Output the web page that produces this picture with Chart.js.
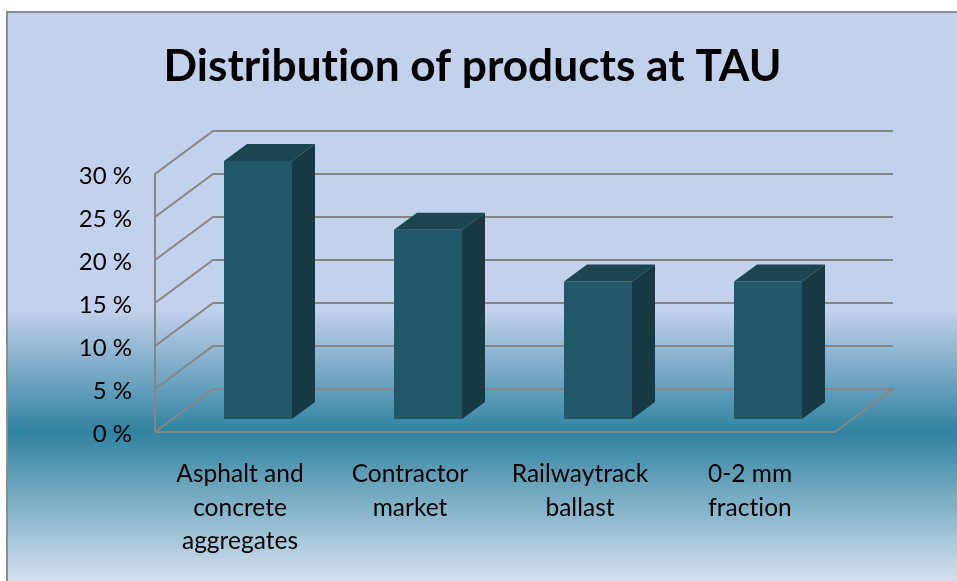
<!DOCTYPE html>
<html>
<head>
<meta charset="utf-8">
<style>html,body{margin:0;padding:0;background:#fff;overflow:hidden}canvas{display:block}</style>
<script src="https://cdn.jsdelivr.net/npm/chart.js@4"></script>
</head>
<body>
<canvas id="c" width="957" height="581"></canvas>
<script>
const titleText = 'Distribution of products at TAU';
const categories = [['Asphalt and','concrete','aggregates'],['Contractor','market'],['Railwaytrack','ballast'],['0-2 mm','fraction']];
const shareValues = [30, 22, 16, 16];
const axisMax = 30;
const axisStep = 5;

const FONT = 'Lato, "Open Sans", sans-serif';
const GRID = '#868686';
const WALL = {dx: 58, dy: -43};
const BAR_SHIFT = {dx: 18, dy: -13};
const BAR_DEPTH = {dx: 23, dy: -17};
const FRONT = '#215868', SIDE = '#163944', TOP = '#1c4552';

const scene = {
  id: 'scene',
  afterLayout(chart) {
    // centre the title over the whole plot including the value labels
    chart.titleBlock.left += 20;
    chart.titleBlock.right += 20;
  },
  beforeDraw(chart) {
    const {ctx} = chart;
    ctx.letterSpacing = '0.01px';
    const h = chart.height;
    const g = ctx.createLinearGradient(0, 12, 0, h);
    g.addColorStop(0, '#c2d1ec');
    g.addColorStop(0.524, '#c2d1ec');
    g.addColorStop(0.738, '#2f83a0');
    g.addColorStop(1, '#d3e1ef');
    ctx.fillStyle = '#fff';
    ctx.fillRect(0, 0, chart.width, h);
    ctx.fillStyle = g;
    ctx.fillRect(7, 12, chart.width, h);
    ctx.strokeStyle = '#8c8c8c';
    ctx.lineWidth = 2;
    ctx.beginPath();
    ctx.moveTo(7, h + 2); ctx.lineTo(7, 12); ctx.lineTo(chart.width + 2, 12);
    ctx.stroke();

    const y = chart.scales.y, x = chart.scales.x;
    const L = x.left, R = x.right, y0 = y.getPixelForValue(0), yT = y.getPixelForValue(axisMax);
    ctx.strokeStyle = GRID;
    ctx.lineWidth = 2;
    ctx.lineJoin = 'miter';
    y.ticks.forEach(t => {
      const py = y.getPixelForValue(t.value);
      ctx.beginPath();
      ctx.moveTo(L, py);
      ctx.lineTo(L + WALL.dx, py + WALL.dy);
      ctx.lineTo(R + WALL.dx, py + WALL.dy);
      if (t.value === 0) { ctx.lineTo(R, py); ctx.lineTo(L, py); }
      ctx.stroke();
    });
    ctx.beginPath();
    ctx.moveTo(L, yT); ctx.lineTo(L, y0);
    ctx.stroke();
  },
  beforeDatasetsDraw(chart) {
    chart.ctx.save();
    chart.ctx.translate(BAR_SHIFT.dx, BAR_SHIFT.dy);
  },
  afterDatasetsDraw(chart) {
    const {ctx} = chart;
    chart.getDatasetMeta(0).data.forEach(b => {
      const l = b.x - b.width / 2, r = b.x + b.width / 2, t = b.y, u = b.base;
      ctx.fillStyle = SIDE;
      ctx.beginPath();
      ctx.moveTo(r, t); ctx.lineTo(r + BAR_DEPTH.dx, t + BAR_DEPTH.dy);
      ctx.lineTo(r + BAR_DEPTH.dx, u + BAR_DEPTH.dy); ctx.lineTo(r, u);
      ctx.closePath(); ctx.fill();
      ctx.fillStyle = TOP;
      ctx.beginPath();
      ctx.moveTo(l, t); ctx.lineTo(l + BAR_DEPTH.dx, t + BAR_DEPTH.dy);
      ctx.lineTo(r + BAR_DEPTH.dx, t + BAR_DEPTH.dy); ctx.lineTo(r, t);
      ctx.closePath(); ctx.fill();
    });
    ctx.restore();
  }
};

new Chart(document.getElementById('c'), {
  type: 'bar',
  data: {
    labels: categories,
    datasets: [{data: shareValues, backgroundColor: FRONT, barPercentage: 0.4, categoryPercentage: 1}]
  },
  plugins: [scene],
  options: {
    responsive: false,
    animation: false,
    layout: {padding: {left: 70, right: 122, top: 0, bottom: 10}},
    plugins: {
      legend: {display: false},
      tooltip: {enabled: false},
      title: {
        display: true,
        text: titleText,
        color: '#000',
        font: {family: FONT, size: 44.2, weight: 'bold', lineHeight: 1.2},
        padding: {top: 40.5, bottom: 80.5}
      }
    },
    scales: {
      x: {
        grid: {display: false},
        border: {display: false},
        afterFit(s) { s.height = 139; },
        ticks: {
          color: '#000', maxRotation: 0, minRotation: 0, autoSkip: false, padding: 18,
          font: {family: FONT, size: 24.5, lineHeight: 1.35}
        }
      },
      y: {
        min: 0, max: axisMax,
        grid: {display: false},
        border: {display: false},
        afterFit(s) { s.width = 85; },
        ticks: {
          stepSize: axisStep, color: '#000', padding: 15, labelOffset: 2,
          font: {family: FONT, size: 24},
          callback: v => v + ' %'
        }
      }
    }
  }
});
</script>
</body>
</html>
